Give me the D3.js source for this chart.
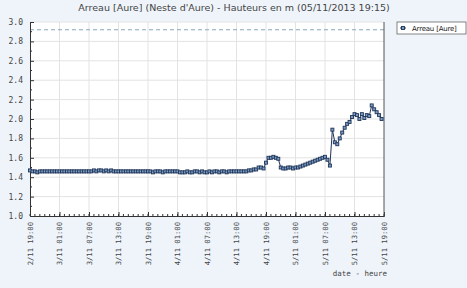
<!DOCTYPE html>
<html>
<head>
<meta charset="utf-8">
<script src="https://cdn.jsdelivr.net/npm/d3@7"></script>
<style>
  body { margin: 0; background: #eff4fb; }
  svg { display: block; }
</style>
</head>
<body>
<div id="chart"></div>
<script>
// Hauteurs (m) toutes les 30 minutes, depuis le 2/11/2013 19:00
const startTime = "2013-11-02T19:00";
const stepMinutes = 30;
const heights = [
  // 2/11 19:00 - 3/11 00:30
  1.47, 1.46, 1.46, 1.45, 1.46, 1.46, 1.46, 1.46, 1.46, 1.46, 1.46, 1.46,
  // 3/11 01:00 - 06:30
  1.46, 1.46, 1.46, 1.46, 1.46, 1.46, 1.46, 1.46, 1.46, 1.46, 1.46, 1.46,
  // 3/11 07:00 - 12:30
  1.46, 1.46, 1.47, 1.46, 1.47, 1.47, 1.46, 1.47, 1.46, 1.47, 1.46, 1.46,
  // 3/11 13:00 - 18:30
  1.46, 1.46, 1.46, 1.46, 1.46, 1.46, 1.46, 1.46, 1.46, 1.46, 1.46, 1.46,
  // 3/11 19:00 - 4/11 00:30
  1.46, 1.46, 1.45, 1.46, 1.46, 1.46, 1.45, 1.46, 1.46, 1.46, 1.46, 1.46,
  // 4/11 01:00 - 06:30
  1.46, 1.45, 1.45, 1.45, 1.46, 1.45, 1.45, 1.46, 1.46, 1.45, 1.46, 1.45,
  // 4/11 07:00 - 12:30
  1.45, 1.46, 1.45, 1.46, 1.46, 1.45, 1.46, 1.46, 1.45, 1.46, 1.46, 1.46,
  // 4/11 13:00 - 18:30
  1.46, 1.46, 1.46, 1.46, 1.46, 1.47, 1.47, 1.48, 1.48, 1.50, 1.50, 1.49,
  // 4/11 19:00 - 5/11 00:30
  1.55, 1.60, 1.60, 1.61, 1.60, 1.59, 1.50, 1.49, 1.49, 1.50, 1.50, 1.49,
  // 5/11 01:00 - 06:30
  1.50, 1.50, 1.51, 1.52, 1.53, 1.54, 1.55, 1.56, 1.57, 1.58, 1.59, 1.60,
  // 5/11 07:00 - 12:30
  1.61, 1.58, 1.52, 1.89, 1.76, 1.74, 1.80, 1.86, 1.91, 1.95, 1.97, 2.02,
  // 5/11 13:00 - 18:30
  2.05, 2.04, 2.00, 2.05, 2.01, 2.04, 2.03, 2.14, 2.10, 2.07, 2.04, 2.00
];
const alertLevel = 2.92;
const yTicks = [1.0, 1.2, 1.4, 1.6, 1.8, 2.0, 2.2, 2.4, 2.6, 2.8, 3.0];
const xTickLabels = ["2/11 19:00", "3/11 01:00", "3/11 07:00", "3/11 13:00", "3/11 19:00",
  "4/11 01:00", "4/11 07:00", "4/11 13:00", "4/11 19:00", "5/11 01:00", "5/11 07:00",
  "5/11 13:00", "5/11 19:00"];
const seriesName = "Arreau [Aure]";
const title = "Arreau [Aure] (Neste d'Aure) - Hauteurs en m (05/11/2013 19:15)";
const xTitle = "date - heure";

const width = 467, height = 288;
const margin = { left: 30, right: 83, top: 22, bottom: 72 };

const parse = d3.timeParse("%Y-%m-%dT%H:%M");
const t0 = parse(startTime);
const data = heights.map((v, i) => ({ t: d3.timeMinute.offset(t0, i * stepMinutes), v: v }));
const tEnd = d3.timeHour.offset(t0, 72);

const svg = d3.select("#chart")
  .append("svg")
  .attr("width", width)
  .attr("height", height);

const x = d3.scaleTime()
  .domain([t0, tEnd])
  .range([margin.left, width - margin.right]);

const y = d3.scaleLinear()
  .domain([1.0, 3.0])
  .range([height - margin.bottom, margin.top]);

// zone de tracé
svg.append("rect")
  .attr("x", margin.left)
  .attr("y", margin.top)
  .attr("width", width - margin.left - margin.right)
  .attr("height", height - margin.top - margin.bottom)
  .attr("fill", "#fff");

const majorX = xTickLabels.map((d, i) => d3.timeHour.offset(t0, i * 6));
const minorX = d3.range(0, 73).map(h => d3.timeHour.offset(t0, h));

// grille
svg.append("g")
  .selectAll("line")
  .data(majorX.slice(1, -1))
  .enter()
  .append("line")
  .attr("x1", d => x(d)).attr("x2", d => x(d))
  .attr("y1", margin.top).attr("y2", height - margin.bottom)
  .attr("stroke", "#e3e3e3")
  .attr("stroke-width", 1);

svg.append("g")
  .selectAll("line")
  .data(yTicks.slice(1))
  .enter()
  .append("line")
  .attr("x1", margin.left).attr("x2", width - margin.right)
  .attr("y1", d => y(d)).attr("y2", d => y(d))
  .attr("stroke", "#e3e3e3")
  .attr("stroke-width", 1);

// niveau de référence
svg.append("line")
  .attr("x1", margin.left).attr("x2", width - margin.right)
  .attr("y1", y(alertLevel)).attr("y2", y(alertLevel))
  .attr("stroke", "#86a9bd")
  .attr("stroke-width", 1)
  .attr("stroke-dasharray", "4,3");

// axe Y
const yAxis = d3.axisLeft(y)
  .tickValues(yTicks)
  .tickSize(-4)
  .tickPadding(7)
  .tickFormat(d3.format(".1f"));

const gy = svg.append("g")
  .attr("transform", `translate(${margin.left},0)`)
  .call(yAxis);
gy.select(".domain").attr("stroke", "#333");
gy.selectAll(".tick line").attr("stroke", "#333");
gy.selectAll("text")
  .attr("font-family", "DejaVu Sans Mono")
  .attr("font-size", "8px")
  .attr("fill", "#444");

svg.append("g")
  .selectAll("line")
  .data(d3.range(1.1, 3.0, 0.2))
  .enter()
  .append("line")
  .attr("x1", margin.left).attr("x2", margin.left + 2)
  .attr("y1", d => y(d)).attr("y2", d => y(d))
  .attr("stroke", "#333");

// axe X
const xAxis = d3.axisBottom(x)
  .tickValues(majorX)
  .tickSize(-4)
  .tickFormat((d, i) => xTickLabels[i]);

const gx = svg.append("g")
  .attr("transform", `translate(0,${height - margin.bottom})`)
  .call(xAxis);
gx.select(".domain").attr("stroke", "#333");
gx.selectAll(".tick line").attr("stroke", "#333");
gx.selectAll("text")
  .attr("font-family", "DejaVu Sans Mono")
  .attr("font-size", "7.2px")
  .attr("fill", "#444")
  .attr("text-anchor", "end")
  .attr("transform", "rotate(-90)")
  .attr("x", -6)
  .attr("y", 0)
  .attr("dy", "0.32em");

svg.append("g")
  .selectAll("line")
  .data(minorX)
  .enter()
  .append("line")
  .attr("x1", d => x(d)).attr("x2", d => x(d))
  .attr("y1", height - margin.bottom).attr("y2", height - margin.bottom - 2)
  .attr("stroke", "#333");

// bord droit
svg.append("line")
  .attr("x1", width - margin.right).attr("x2", width - margin.right)
  .attr("y1", margin.top).attr("y2", height - margin.bottom)
  .attr("stroke", "#555");

// série
const line = d3.line()
  .x(d => x(d.t))
  .y(d => y(d.v));

svg.append("path")
  .datum(data)
  .attr("d", line)
  .attr("fill", "none")
  .attr("stroke", "#1f3557")
  .attr("stroke-width", 1);

svg.append("g")
  .selectAll("rect")
  .data(data)
  .enter()
  .append("rect")
  .attr("x", d => x(d.t) - 1.5)
  .attr("y", d => y(d.v) - 1.5)
  .attr("width", 3)
  .attr("height", 3)
  .attr("fill", "#7d9cc4")
  .attr("stroke", "#1f3557")
  .attr("stroke-width", 0.9);

// titre
svg.append("text")
  .attr("x", 234)
  .attr("y", 11)
  .attr("text-anchor", "middle")
  .attr("font-family", "DejaVu Sans")
  .attr("font-size", "9.5px")
  .attr("fill", "#444")
  .text(title);

svg.append("text")
  .attr("x", width - margin.right + 3)
  .attr("y", 276)
  .attr("text-anchor", "end")
  .attr("font-family", "DejaVu Sans Mono")
  .attr("font-size", "7.5px")
  .attr("fill", "#444")
  .text(xTitle);

// légende
const legend = svg.append("g").attr("transform", "translate(397,22)");
legend.append("rect")
  .attr("width", 69).attr("height", 12)
  .attr("fill", "#fff")
  .attr("stroke", "#666")
  .attr("stroke-width", 0.8);
legend.append("line")
  .attr("x1", 3).attr("x2", 9).attr("y1", 6).attr("y2", 6)
  .attr("stroke", "#1f3557");
legend.append("rect")
  .attr("x", 4.5).attr("y", 4.5).attr("width", 3).attr("height", 3)
  .attr("fill", "#7d9cc4").attr("stroke", "#1f3557").attr("stroke-width", 0.9);
legend.append("text")
  .attr("x", 15).attr("y", 9)
  .attr("font-family", "DejaVu Sans")
  .attr("font-size", "7px")
  .attr("letter-spacing", "-0.2")
  .attr("fill", "#222")
  .text(seriesName);
</script>
</body>
</html>
